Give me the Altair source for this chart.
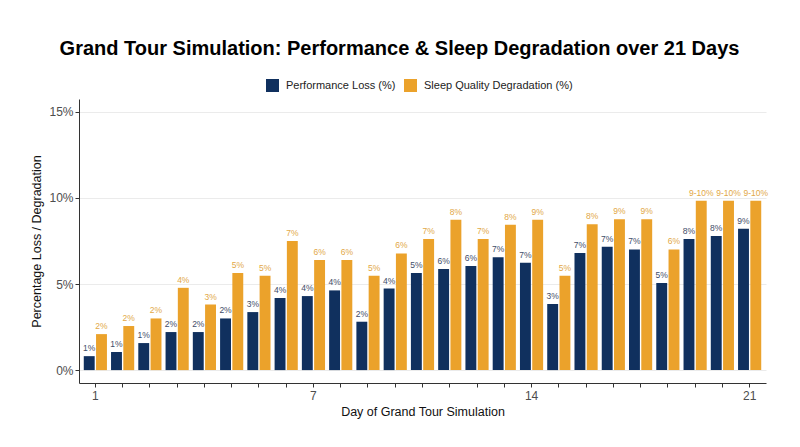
import altair as alt
import pandas as pd

days = list(range(1, 26))
tick_labels = {1: "1", 9: "7", 17: "14", 25: "21"}
series_names = ["Performance Loss (%)", "Sleep Quality Degradation (%)"]

perf = [0.81, 1.05, 1.57, 2.21, 2.21, 3.00, 3.37, 4.19, 4.30, 4.63, 2.81, 4.74, 5.64,
        5.87, 6.05, 6.55, 6.24, 3.84, 6.80, 7.17, 7.01, 5.06, 7.62, 7.79, 8.21]
sleep = [2.09, 2.56, 3.00, 4.78, 3.81, 5.64, 5.48, 7.50, 6.40, 6.40, 5.48, 6.78, 7.62,
         8.74, 7.62, 8.45, 8.74, 5.48, 8.47, 8.76, 8.76, 7.01, 9.84, 9.84, 9.84]
perf_labels = ["1%", "1%", "1%", "2%", "2%", "2%", "3%", "4%", "4%", "4%", "2%", "4%", "5%",
               "6%", "6%", "7%", "7%", "3%", "7%", "7%", "7%", "5%", "8%", "8%", "9%"]
sleep_labels = ["2%", "2%", "2%", "4%", "3%", "5%", "5%", "7%", "6%", "6%", "5%", "6%", "7%",
                "8%", "7%", "8%", "9%", "5%", "8%", "9%", "9%", "6%", "9-10%", "9-10%", "9-10%"]

NAVY = "#10305e"
ORANGE = "#eba22b"
NAVY_LABEL = "#3f4d68"
ORANGE_LABEL = "#e2a847"
FONT = "Liberation Sans"

rows = []
for i, d in enumerate(days):
    rows.append({"day": d, "series": series_names[0], "value": perf[i], "label": perf_labels[i]})
    rows.append({"day": d, "series": series_names[1], "value": sleep[i], "label": sleep_labels[i]})
df = pd.DataFrame(rows)

label_expr = " : ".join(f"datum.value == {k} ? '{v}'" for k, v in tick_labels.items()) + " : ''"

x_enc = alt.X(
    "day:O",
    scale=alt.Scale(paddingInner=0.1, paddingOuter=0.15),
    axis=alt.Axis(
        title="Day of Grand Tour Simulation",
        labelExpr=label_expr,
        labelAngle=0,
        grid=False,
        tickSize=4,
        labelPadding=3,
        titlePadding=4,
    ),
)
xo_enc = alt.XOffset(
    "series:N",
    scale=alt.Scale(domain=series_names, paddingInner=0.111, paddingOuter=0.0555),
)
y_enc = alt.Y(
    "value:Q",
    scale=alt.Scale(domain=[-0.75, 15.75], nice=False, zero=False),
    axis=alt.Axis(
        title="Percentage Loss / Degradation",
        values=[0, 5, 10, 15],
        labelExpr="datum.value + '%'",
        grid=True,
        tickSize=4,
        labelPadding=2,
        titlePadding=5,
    ),
)

base = alt.Chart(df)

bars = base.mark_bar().encode(
    x=x_enc,
    xOffset=xo_enc,
    y=y_enc,
    y2=alt.datum(0),
    color=alt.Color(
        "series:N",
        scale=alt.Scale(domain=series_names, range=[NAVY, ORANGE]),
        legend=alt.Legend(
            orient="none",
            legendX=187,
            legendY=-20,
            direction="horizontal",
            title=None,
            symbolType="square",
            symbolSize=169,
            symbolStrokeWidth=0,
            symbolOpacity=1,
            labelFontSize=11,
            labelFont=FONT,
            labelColor="#222222",
            labelOffset=7,
            columnPadding=8,
            padding=0,
        ),
    ),
)

texts = base.mark_text(baseline="alphabetic", dy=-5, fontSize=8.5, font=FONT).encode(
    x=alt.X("day:O"),
    xOffset=alt.XOffset("series:N"),
    y=alt.Y("value:Q"),
    text="label:N",
    color=alt.condition(
        alt.datum.series == series_names[0], alt.value(NAVY_LABEL), alt.value(ORANGE_LABEL)
    ),
)

chart = (
    alt.layer(bars, texts)
    .properties(
        width=687,
        height=284,
        autosize=alt.AutoSizeParams(type="none"),
        padding={"left": 71, "top": 91, "right": 20, "bottom": 40},
        title=alt.TitleParams(
            "Grand Tour Simulation: Performance & Sleep Degradation over 21 Days",
            fontSize=20,
            font=FONT,
            fontWeight="bold",
            color="#000000",
            anchor="middle",
            dx=-23,
            offset=20,
        ),
        background="white",
    )
    .configure_view(stroke=None)
    .configure_axis(
        domainColor="#333333",
        tickColor="#333333",
        gridColor="#ebebeb",
        labelColor="#4d4d4d",
        titleColor="#111111",
        labelFont=FONT,
        titleFont=FONT,
        labelFontSize=12,
        titleFontSize=12.5,
        titleFontWeight="normal",
    )
)

chart.save("out.html", embed_options={"renderer": "svg", "actions": False})
